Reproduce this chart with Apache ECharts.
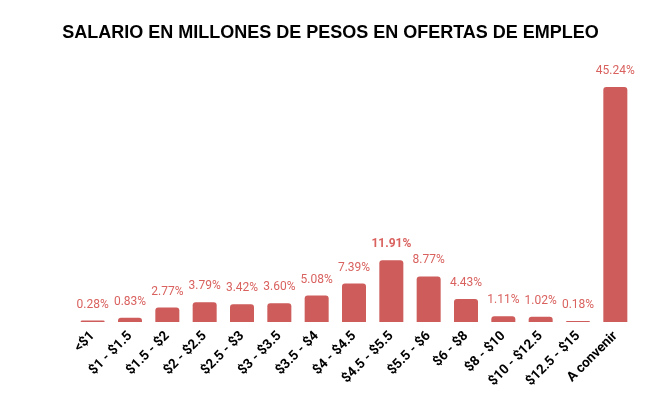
<!DOCTYPE html>
<html><head><meta charset="utf-8">
<script src="https://cdn.jsdelivr.net/npm/echarts@6/dist/echarts.min.js"></script>
<style>html,body{margin:0;padding:0;background:#fff}#c{width:661px;height:408px}</style>
</head><body><div id="c"></div>
<script>
const categories = ['<$1','$1 - $1.5','$1.5 - $2','$2 - $2.5','$2.5 - $3','$3 - $3.5','$3.5 - $4','$4 - $4.5','$4.5 - $5.5','$5.5 - $6','$6 - $8','$8 - $10','$10 - $12.5','$12.5 - $15','A convenir'];
const values = [0.28,0.83,2.77,3.79,3.42,3.60,5.08,7.39,11.91,8.77,4.43,1.11,1.02,0.18,45.24];
const boldIndex = 8;
const chart = echarts.init(document.getElementById('c'));
chart.setOption({
  animation:false,
  title:{text:'SALARIO EN MILLONES DE PESOS EN OFERTAS DE EMPLEO',left:'center',top:19,
    textStyle:{fontFamily:'Liberation Sans, Arial',fontWeight:'bold',fontSize:18,color:'#000'}},
  grid:{left:74,right:27,top:87,bottom:86},
  xAxis:{type:'category',data:categories,
    axisLine:{show:false},axisTick:{show:false},
    axisLabel:{rotate:45,interval:0,fontFamily:'Roboto',fontWeight:'bold',fontSize:13.5,color:'#000',margin:12}},
  yAxis:{type:'value',min:0,max:45.24,show:false,splitLine:{show:false}},
  series:[{type:'bar',barWidth:24,
    data:values.map((v,i)=>({value:v,label:{fontWeight:i===boldIndex?'bold':'normal'}})),
    itemStyle:{color:'#CD5C5A',borderRadius:[3,3,0,0]},
    label:{show:true,position:'top',distance:10,formatter:p=>p.value.toFixed(2)+'%',
      fontFamily:'Roboto',fontSize:12,color:'#D9625F'}}]
});
</script></body></html>
